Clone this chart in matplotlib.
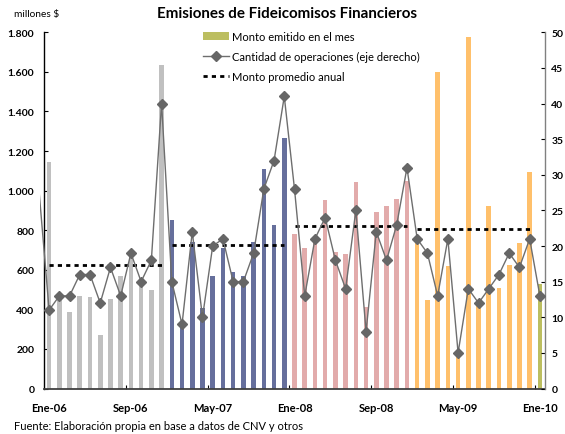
import matplotlib
matplotlib.use('Agg')
import matplotlib.pyplot as plt
from matplotlib.patches import Patch, Rectangle
from matplotlib.lines import Line2D
from matplotlib.ticker import FuncFormatter, FixedLocator
import numpy as np

plt.rcParams['font.family'] = ['Lato', 'DejaVu Sans']

# ---------------- data ----------------
meses = ['Ene', 'Feb', 'Mar', 'Abr', 'May', 'Jun', 'Jul', 'Ago', 'Sep', 'Oct', 'Nov', 'Dic']
anios = ['06', '07', '08', '09']
categorias = [f'{m}-{a}' for a in anios for m in meses] + ['Ene-10']

monto_2006 = [1145, 455, 388, 468, 463, 270, 453, 570, 665, 530, 500, 1635]
monto_2007 = [850, 330, 740, 405, 570, 710, 590, 570, 740, 1110, 825, 1265]
monto_2008 = [780, 710, 755, 955, 690, 680, 1045, 410, 890, 920, 960, 1050]
monto_2009 = [750, 445, 1600, 620, 165, 1775, 430, 920, 510, 625, 735, 1095]
monto_2010 = [530]

ops_dic05 = 28
ops_2006 = [11, 13, 13, 16, 16, 12, 17, 13, 19, 15, 18, 40]
ops_2007 = [15, 9, 22, 10, 20, 21, 15, 15, 19, 28, 32, 41]
ops_2008 = [28, 13, 21, 24, 18, 14, 25, 8, 22, 18, 23, 31]
ops_2009 = [21, 19, 13, 21, 5, 14, 12, 14, 16, 19, 17, 21]
ops_2010 = [13]

promedio_anual = [625, 725, 820, 808]

monto = monto_2006 + monto_2007 + monto_2008 + monto_2009 + monto_2010
ops = ops_2006 + ops_2007 + ops_2008 + ops_2009 + ops_2010

colores_anio = ['#C0C0C0', '#666F9C', '#E2ABAB', '#FFC06B', '#BCBE60']
col_linea = '#6E6E6E'
col_marker = '#666666'

# ---------------- figure ----------------
W, H = 565, 435
fig = plt.figure(figsize=(W / 100, H / 100), dpi=100)
ax = fig.add_axes([44 / W, 1 - 389.5 / H, 501 / W, 356.2 / H])

x = np.arange(len(categorias))
colors = [colores_anio[i // 12] for i in x]
ax.bar(x, monto, width=0.45, color=colors, zorder=2)

for k, v in enumerate(promedio_anual):
    ax.plot([12 * k, 12 * k + 11], [v, v], color='black', lw=2,
            dashes=(1.5, 1.5), zorder=3)

ax.set_xlim(-0.5, len(x) - 0.5)
ax.set_ylim(0, 1800)

ax2 = ax.twinx()
ax2.set_ylim(0, 50)
ax2.plot(x, ops, color=col_linea, lw=1, marker='D', ms=5,
         mfc=col_marker, mec=col_marker, zorder=4)
ext, = ax2.plot([-1, 0], [ops_dic05, ops[0]], color=col_linea, lw=1)
ext.set_clip_path(Rectangle((-0.008, 0), 1.016, 1, transform=ax2.transAxes))

# spines
for a in (ax, ax2):
    a.spines['top'].set_visible(False)
ax.spines['left'].set_color('black')
ax.spines['left'].set_linewidth(1)
ax.spines['bottom'].set_color('#404040')
ax.spines['bottom'].set_linewidth(1.3)
ax.spines['right'].set_visible(False)
ax2.spines['left'].set_visible(False)
ax2.spines['bottom'].set_visible(False)
ax2.spines['right'].set_color('#808080')
ax2.spines['right'].set_linewidth(1)

# ticks
ax.set_yticks(np.arange(0, 1801, 200))
ax.yaxis.set_major_formatter(FuncFormatter(lambda v, p: f'{int(v):,}'.replace(',', '.')))
ax.tick_params(axis='y', direction='in', length=3, width=0.8, pad=7,
               labelsize=7.5, colors='black')
ax2.set_yticks(np.arange(0, 51, 5))
ax2.tick_params(axis='y', direction='in', length=3, width=0.8, pad=4.5,
                labelsize=7.5, colors='black')
for lab in ax.get_yticklabels() + ax2.get_yticklabels():
    lab.set_fontweight('bold')

major_pos = list(range(0, len(categorias), 8))
ax.xaxis.set_major_locator(FixedLocator(major_pos))
ax.set_xticklabels([categorias[i] for i in major_pos], fontweight='bold', fontsize=8)
ax.xaxis.set_minor_locator(FixedLocator([p + 7.5 for p in major_pos[:-1]]))
ax.tick_params(axis='x', which='major', length=0, pad=10)
ax.tick_params(axis='x', which='minor', direction='in', length=3, width=0.8,
               color='black')

# legend
handles = [
    Patch(facecolor=colores_anio[4], edgecolor='none'),
    Line2D([], [], color=col_linea, lw=1, marker='D', ms=5,
           mfc=col_marker, mec=col_marker),
    Line2D([], [], color='black', lw=2, dashes=(1.5, 1.5)),
]
labels = ['Monto emitido en el mes', 'Cantidad de operaciones (eje derecho)',
          'Monto promedio anual']
leg = ax2.legend(handles, labels, loc='upper left',
                 bbox_to_anchor=(203 / W, 1 - 32 / H),
                 bbox_transform=fig.transFigure, frameon=False,
                 fontsize=8, handlelength=2.35, handletextpad=0.27,
                 labelspacing=0.82, borderaxespad=0, borderpad=0)

# texts
fig.text(287 / W, 1 - 14.4 / H, 'Emisiones de Fideicomisos Financieros',
         ha='center', va='center', fontsize=10.9, fontweight='bold')
fig.text(14 / W, 1 - 15 / H, 'millones $', ha='left', va='center', fontsize=7.3)
fig.text(13.7 / W, 1 - 426.8 / H,
         'Fuente: Elaboración propia en base a datos de CNV y otros',
         ha='left', va='center', fontsize=8)

fig.savefig('out.png', dpi=100)
